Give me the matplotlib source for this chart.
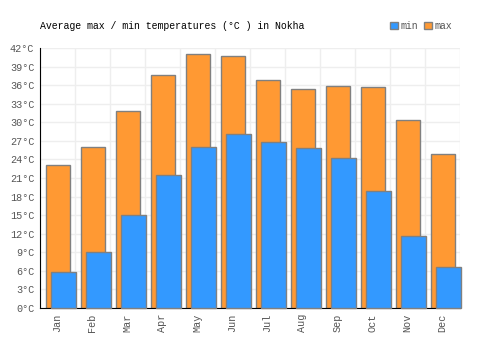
import numpy as np
import matplotlib
matplotlib.use('Agg')
import matplotlib.pyplot as plt
from matplotlib.patches import Patch

months = ['Jan', 'Feb', 'Mar', 'Apr', 'May', 'Jun', 'Jul', 'Aug', 'Sep', 'Oct', 'Nov', 'Dec']
t_max = [23.1, 26.0, 31.8, 37.6, 41.0, 40.7, 36.8, 35.4, 35.9, 35.7, 30.4, 24.8]
t_min = [5.8, 9.0, 15.0, 21.4, 26.0, 28.1, 26.8, 25.8, 24.2, 18.9, 11.7, 6.7]
y_ticks = list(range(0, 43, 3))

plt.rcParams['font.family'] = ['Liberation Mono', 'DejaVu Sans Mono']

fig = plt.figure(figsize=(5, 3.5), dpi=100)
ax = fig.add_axes([0.08, 0.12, 0.84, 0.743])

x = np.arange(len(months))
ax.bar(x + 0.17, t_max, width=0.69, align='edge', color='#ff9933',
       edgecolor='#808080', linewidth=1, zorder=2)
ax.bar(x + 0.31, t_min, width=0.71, align='edge', color='#3399ff',
       edgecolor='#808080', linewidth=1, zorder=3, clip_on=False)

ax.set_xlim(0, 12)
ax.set_ylim(0, 42)
ax.set_yticks(y_ticks)
ax.set_yticklabels([f'{v}°C' for v in y_ticks], color='#555555', fontsize=7.3)
ax.set_xticks(x + 0.5)
ax.set_xticklabels(months, rotation=90, color='#555555', fontsize=7.3)
ax.set_xticks(np.arange(13), minor=True)
ax.tick_params(axis='both', length=0, pad=4)
ax.tick_params(axis='x', which='minor', length=0)

ax.grid(axis='y', color='#eeeeee', linewidth=1, zorder=0)
ax.grid(axis='x', which='minor', color='#eeeeee', linewidth=1, zorder=0)
ax.grid(axis='x', which='major', visible=False)

for s in ['top', 'right']:
    ax.spines[s].set_visible(False)
ax.spines['left'].set_color('black')
ax.spines['bottom'].set_color('black')

fig.text(0.08, 0.926, 'Average max / min temperatures (°C ) in Nokha',
         fontsize=7.1, color='black', va='center')

handles = [Patch(facecolor='#3399ff', edgecolor='#808080', label='min'),
           Patch(facecolor='#ff9933', edgecolor='#808080', label='max')]
fig.legend(handles=handles, loc='center right', bbox_to_anchor=(0.905, 0.926),
           ncol=2, frameon=False, fontsize=7.1, handlelength=0.85, handleheight=0.85,
           handletextpad=0.25, columnspacing=0.6, labelcolor='#555555',
           borderpad=0, borderaxespad=0)

fig.savefig('out.png', dpi=100)
